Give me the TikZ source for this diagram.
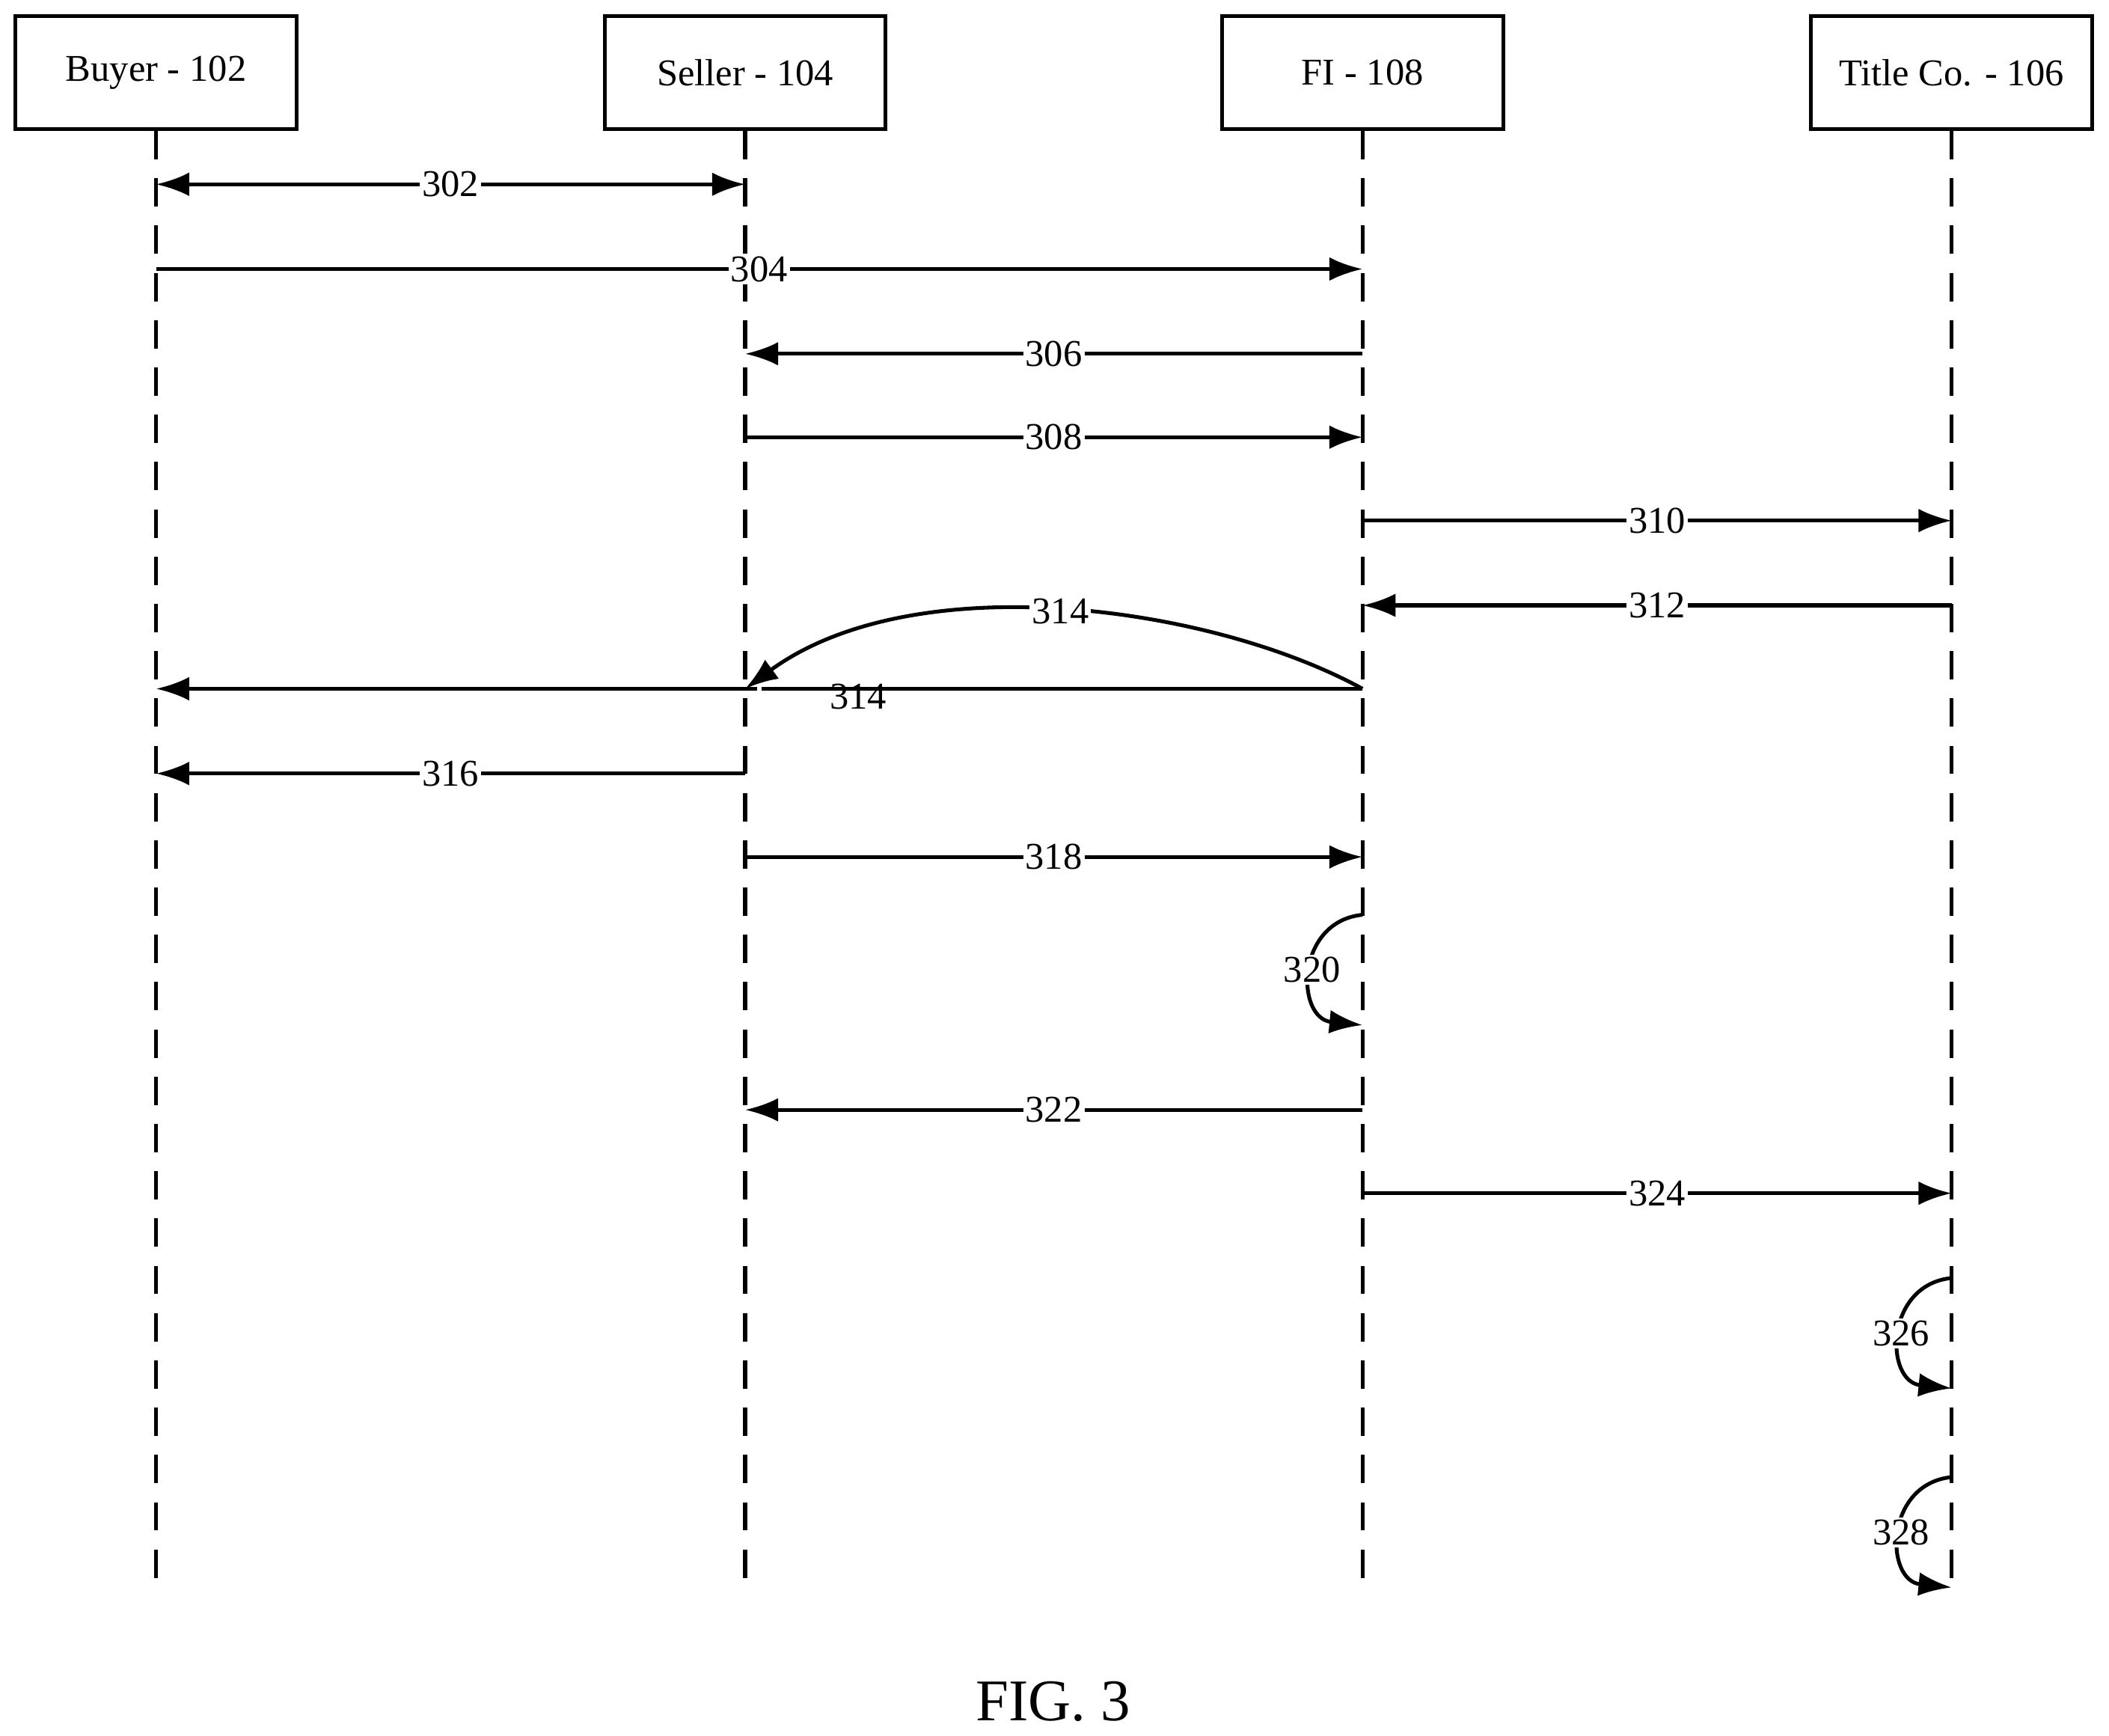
\documentclass[tikz,border=0pt]{standalone}
\usepackage{fontspec}
\setmainfont{Liberation Serif}
\usetikzlibrary{arrows.meta,positioning}
\tikzset{
    party/.style={
           rectangle,
           draw=black,
           minimum width=20.9mm,
           minimum height=8.4mm,
           inner sep=2pt,
           text centered,
           font=\fontsize{8pt}{9pt}\selectfont,
           },
    life/.style={dashed,dash pattern=on 6pt off 4pt},
    msg/.style={-{Latex[length=7pt,width=5pt]}},
    num/.style={fill=white,inner sep=0.5pt,font=\fontsize{8pt}{9pt}\selectfont},
}
\begin{document}
\begin{tikzpicture}[x=0.1mm,y=-0.1mm,thick]
\useasboundingbox (0,0) rectangle (1568,1290);
\node[party](buyer) at (116,54){Buyer - 102};
\node[party](seller) at (554,54){Seller - 104};
\node[party](fi) at (1013,54){FI - 108};
\node[party](title) at (1451,54){Title Co. - 106};
% lifelines
\foreach \p/\x in {buyer/116,seller/554,fi/1013,title/1451}{
  \coordinate (\p end) at (\x,1183);
  \draw[life] (\p.south) -- (\p end);
}
% messages
\foreach \a/\b/\y/\n in {buyer/fi/200/304,fi/seller/263/306,seller/fi/325/308,
  fi/title/387/310,title/fi/450/312,fi/buyer/512/{},seller/buyer/575/316,
  seller/fi/637/318,fi/seller/825/322,fi/title/887/324}{
  \draw[msg] (\a.south |- 0,\y) -- node[num]{\n} (\b.south |- 0,\y);
}
\draw[{Latex[length=7pt,width=5pt]}-{Latex[length=7pt,width=5pt]}]
  (buyer.south |- 0,137) -- node[num]{302} (seller.south |- 0,137);
\node[font=\fontsize{8pt}{9pt}\selectfont](l314) at (638,518){314};
\draw[msg] (fi.south |- 0,512) .. controls (900,450) and (680,420) .. node[num,pos=0.5]{314} (seller.south |- 0,512);
% self loops
\foreach \p/\t/\n in {fi/680/320,title/950/326,title/1098/328}{
  \draw[msg] (\p.south |- 0,\t) .. controls +(-50,5) and +(-50,-5) .. node[num,pos=0.5]{\n} (\p.south |- 0,\t+82);
}
\node[font=\fontsize{12.5pt}{14pt}\selectfont](fig) at (783,1265){FIG. 3};
\end{tikzpicture}
\end{document}
